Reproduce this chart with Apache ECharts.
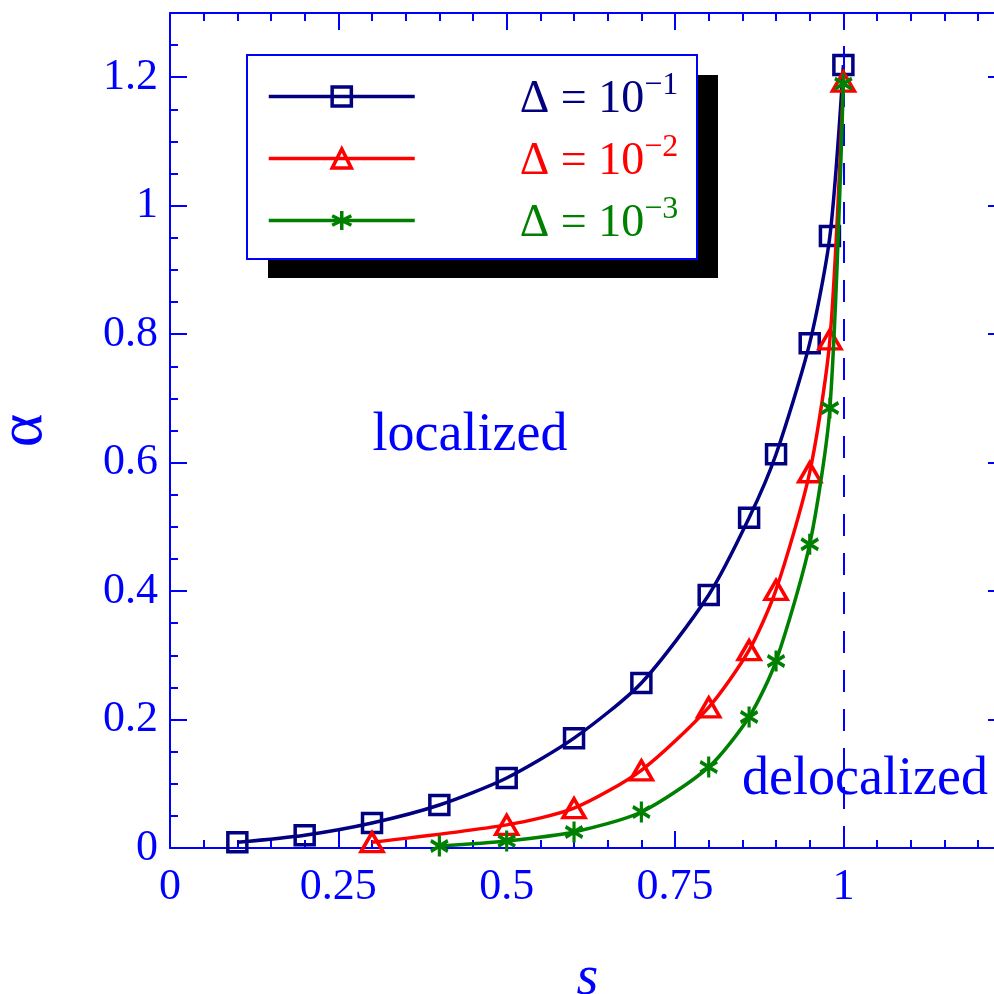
<!DOCTYPE html>
<html>
<head>
<meta charset="utf-8">
<script src="https://cdn.jsdelivr.net/npm/echarts@6/dist/echarts.min.js"></script>
<style>
  html, body { margin: 0; padding: 0; background: #fff; }
  #chart { width: 994px; height: 994px; }
</style>
</head>
<body>
<div id="chart"></div>
<script>
// s values and alpha, one pair of arrays per Delta
const sDelta1 = [0.1, 0.2, 0.3, 0.4, 0.5, 0.6, 0.7, 0.8, 0.86, 0.9, 0.95, 0.98, 1.0]
const alphaDelta1 = [0.009, 0.02, 0.039, 0.067, 0.109, 0.171, 0.257, 0.394, 0.514, 0.613, 0.786, 0.953, 1.219]

const sDelta2 = [0.3, 0.5, 0.6, 0.7, 0.8, 0.86, 0.9, 0.95, 0.98, 1.0]
const alphaDelta2 = [0.009, 0.036, 0.062, 0.121, 0.219, 0.308, 0.402, 0.585, 0.792, 1.193]

const sDelta3 = [0.4, 0.5, 0.6, 0.7, 0.8, 0.86, 0.9, 0.95, 0.98, 1.0]
const alphaDelta3 = [0.003, 0.011, 0.025, 0.056, 0.126, 0.204, 0.291, 0.473, 0.685, 1.19]

const seriesNames = ['Δ = 10^-1', 'Δ = 10^-2', 'Δ = 10^-3']
const exponents = ['−1', '−2', '−3']
const seriesColors = ['#000080', '#ff0000', '#008000']

const criticalS = 1

const BLUE = '#0000ff'
const FONT = '"Liberation Serif", "Times New Roman", serif'

const STAR = 'path://M10,0 L10,24 M0,6 L20,18 M0,18 L20,6'
const symbols = ['rect', 'triangle', STAR]
const symbolSizes = [19, [22, 19], [17, 21]]

const chart = echarts.init(document.getElementById('chart'))

function zip(xs, ys) {
  return xs.map((x, i) => [x, ys[i]])
}

const seriesData = [
  zip(sDelta1, alphaDelta1),
  zip(sDelta2, alphaDelta2),
  zip(sDelta3, alphaDelta3),
]

function majorAxis(extra) {
  return Object.assign({
    type: 'value',
    axisLine: { show: true, onZero: false, lineStyle: { color: BLUE, width: 2 } },
    axisTick: { show: true, inside: true, length: 17, lineStyle: { color: BLUE, width: 2 } },
    axisLabel: { show: false },
    splitLine: { show: false },
  }, extra)
}

function minorAxis(extra) {
  return Object.assign({
    type: 'value',
    axisLine: { show: false, onZero: false },
    axisTick: { show: true, inside: true, length: 8, lineStyle: { color: BLUE, width: 2 } },
    axisLabel: { show: false },
    splitLine: { show: false },
  }, extra)
}

const tickLabel = {
  show: true,
  color: BLUE,
  fontSize: 44,
  fontFamily: FONT,
  showMaxLabel: false,
}

const option = {
  animation: false,
  backgroundColor: '#fff',
  grid: { left: 170, top: 13, right: -11, bottom: 146, containLabel: false, outerBoundsMode: 'none' },
  xAxis: [
    majorAxis({
      position: 'bottom', min: 0, max: 1.24, interval: 0.25,
      axisLabel: Object.assign({}, tickLabel, { margin: 17 }),
      name: 's', nameLocation: 'middle', nameGap: 103,
      nameTextStyle: { color: BLUE, fontSize: 56, fontFamily: FONT, fontStyle: 'italic' },
    }),
    minorAxis({ position: 'bottom', min: 0, max: 1.24, interval: 0.05 }),
    majorAxis({ position: 'top', min: 0, max: 1.24, interval: 0.25 }),
    minorAxis({ position: 'top', min: 0, max: 1.24, interval: 0.05 }),
  ],
  yAxis: [
    majorAxis({
      position: 'left', min: 0, max: 1.3, interval: 0.2,
      axisLabel: Object.assign({}, tickLabel, { margin: 12 }),
      name: 'α', nameLocation: 'middle', nameGap: 114,
      nameTextStyle: { color: BLUE, fontSize: 64, fontFamily: FONT },
    }),
    minorAxis({ position: 'left', min: 0, max: 1.3, interval: 0.05 }),
    majorAxis({ position: 'right', min: 0, max: 1.3, interval: 0.2 }),
    minorAxis({ position: 'right', min: 0, max: 1.3, interval: 0.05 }),
  ],
  legend: {
    orient: 'vertical',
    left: 267,
    top: 70,
    padding: 0,
    itemWidth: 146,
    itemHeight: 24,
    itemGap: 9,
    selectedMode: false,
    textStyle: {
      fontFamily: FONT,
      fontSize: 46,
      rich: {
        g: { width: 100 },
        m: { fontSize: 46, fontFamily: FONT, lineHeight: 53, verticalAlign: 'bottom' },
        p: { fontSize: 32, fontFamily: FONT, verticalAlign: 'top' },
      },
    },
    formatter: (name) => {
      const i = seriesNames.indexOf(name)
      return '{g| }{m|Δ = 10}{p|' + exponents[i] + '}'
    },
    data: seriesNames.map((name, i) => ({
      name,
      textStyle: { color: seriesColors[i] },
      itemStyle: { color: 'none', borderColor: seriesColors[i], borderWidth: 3.5 },
      lineStyle: { color: seriesColors[i], width: 3.5 },
    })),
  },
  graphic: [
    { type: 'rect', z: 1, shape: { x: 268, y: 75, width: 450, height: 203 }, style: { fill: '#000' } },
    { type: 'rect', z: 2, shape: { x: 247, y: 55, width: 450, height: 204 }, style: { fill: '#fff', stroke: BLUE, lineWidth: 2 } },
    {
      type: 'text', z: 100, x: 470, y: 436,
      style: { text: 'localized', fill: BLUE, fontSize: 54, fontFamily: FONT, align: 'center', verticalAlign: 'middle' },
    },
    {
      type: 'text', z: 100, x: 865, y: 780,
      style: { text: 'delocalized', fill: BLUE, fontSize: 54, fontFamily: FONT, align: 'center', verticalAlign: 'middle' },
    },
  ],
  series: seriesData.map((data, i) => ({
    name: seriesNames[i],
    type: 'line',
    xAxisIndex: 0,
    yAxisIndex: 0,
    data,
    smooth: 0.25,
    symbol: symbols[i],
    symbolSize: symbolSizes[i],
    symbolKeepAspect: false,
    showSymbol: true,
    z: 3 + i,
    lineStyle: { color: seriesColors[i], width: 3.5 },
    itemStyle: { color: 'none', borderColor: seriesColors[i], borderWidth: 3.5 },
    emphasis: { disabled: true },
    markLine: i === 0 ? {
      silent: true,
      symbol: ['none', 'none'],
      label: { show: false },
      lineStyle: { color: BLUE, width: 2, type: [22, 17] },
      data: [{ xAxis: criticalS }],
    } : undefined,
  })),
}

chart.setOption(option)
</script>
</body>
</html>
